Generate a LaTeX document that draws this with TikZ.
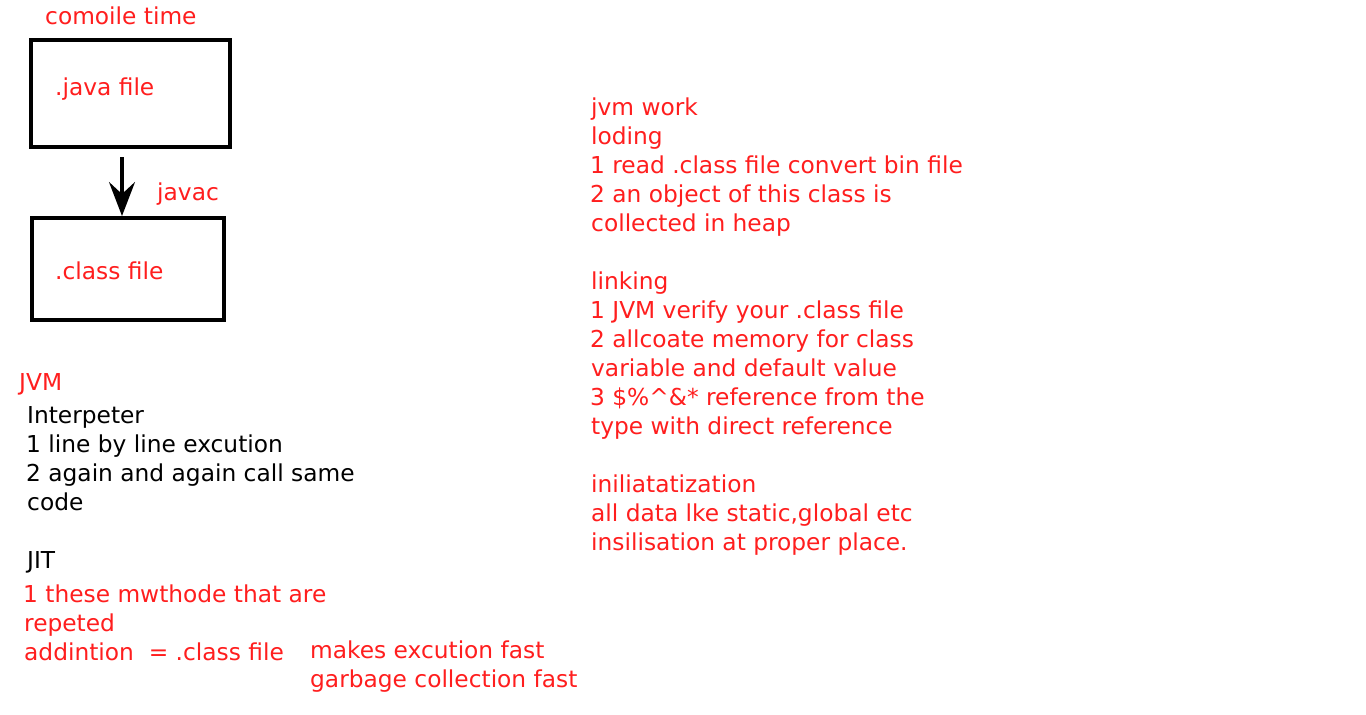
\documentclass[tikz,border=0pt]{standalone}
\usepackage{fontspec}
\setmainfont{DejaVu Sans}
\usetikzlibrary{arrows.meta}
\definecolor{jred}{RGB}{255,30,30}
\newcommand{\fs}{\fontsize{23.3}{29}\selectfont}
\tikzset{
  txt/.style={anchor=base west, inner sep=0pt, font=\fs, text=jred},
  btxt/.style={txt, text=black},
  filebox/.style={draw=black, line width=4pt, inner sep=0pt},
  flow/.style={line width=3.2pt, -{Stealth[length=34pt, width=26pt, inset=12pt]}}
}
\begin{document}
\begin{tikzpicture}[x=1pt,y=-1pt]
\useasboundingbox[fill=white] (0,0) rectangle (1366,715);
% compile-time boxes
\node[txt] (ct) at (45,24) {comoile time};
\node[filebox, minimum width=199pt, minimum height=107pt] (box1) at (130.5,93.5) {};
\node[txt] (jf) at (55,95) {.java file};
\node[filebox, minimum width=192pt, minimum height=102pt] (box2) at (128,269) {};
\node[txt] (cf) at (55,279) {.class file};
\coordinate (a0) at (122,157);
\draw[flow] (a0) -- (a0 |- box2.north);
\node[txt] (jc) at (157,200) {javac};
% JVM
\node[txt] (jvm) at (19,390) {JVM};
\node[btxt] (b1) at (27,423) {Interpeter};
\node[btxt] (b2) at (26,452) {1 line by line excution};
\node[btxt] (b3) at (26,481) {2 again and again call same};
\node[btxt] (b4) at (27,510) {code};
\node[btxt] (jit) at (27,568) {JIT};
\node[txt] (c1) at (23,602) {1 these mwthode that are};
\node[txt] (c2) at (24,631) {repeted};
\node[txt] (c3) at (24,660) {addintion \ = .class file};
\node[txt] (m1) at (310,658) {makes excution fast};
\node[txt] (m2) at (310,687) {garbage collection fast};
% jvm work
\node[txt] (r1) at (591,115) {jvm work};
\node[txt] (r2) at (591,144) {loding};
\node[txt] (r3) at (590,173) {1 read .class file convert bin file};
\node[txt] (r4) at (590,202) {2 an object of this class is};
\node[txt] (r5) at (591,231) {collected in heap};
\node[txt] (r6) at (591,289) {linking};
\node[txt] (r7) at (590,318) {1 JVM verify your .class file};
\node[txt] (r8) at (590,347) {2 allcoate memory for class};
\node[txt] (r9) at (591,376) {variable and default value};
\node[txt] (r10) at (590,405) {3 \$\%\textasciicircum\&* reference from the};
\node[txt] (r11) at (591,434) {type with direct reference};
\node[txt] (r12) at (591,492) {iniliatatization};
\node[txt] (r13) at (591,521) {all data lke static,global etc};
\node[txt] (r14) at (591,550) {insilisation at proper place.};
\end{tikzpicture}
\end{document}
